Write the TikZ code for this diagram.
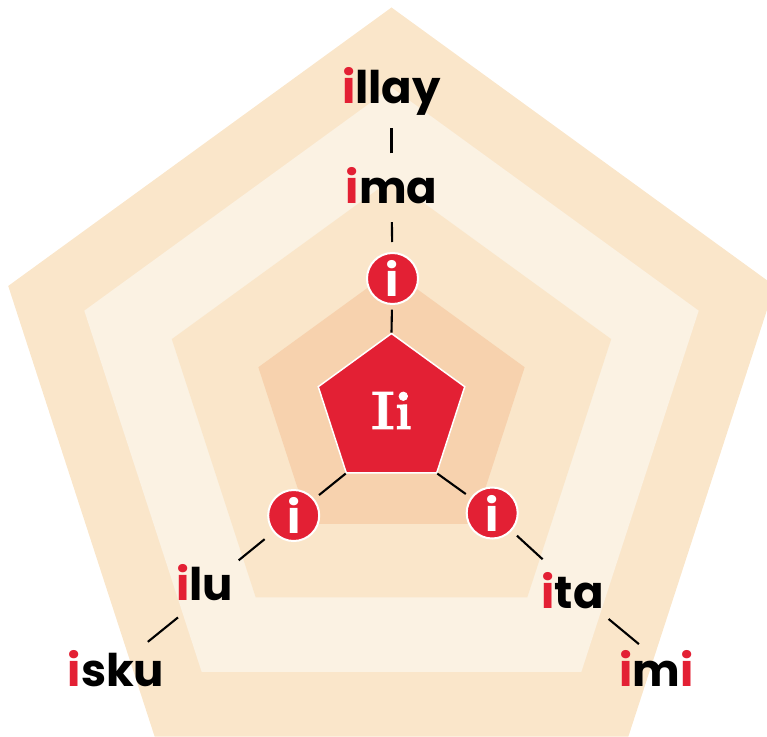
\documentclass[tikz,border=0pt]{standalone}
\usepackage{fontspec}
\newfontfamily\wordfont{Poppins}
\newfontfamily\corefont{lmroman10-bold.otf}[FakeBold=1.5]
\usetikzlibrary{shapes.geometric}
\definecolor{bandpeach}{HTML}{FAE6CA}
\definecolor{bandcream}{HTML}{FBF2E3}
\definecolor{banddeep}{HTML}{F7D2AE}
\definecolor{coral}{HTML}{E32034}
\newcommand{\redi}{\textcolor{coral}{i}}

\begin{document}
\begin{tikzpicture}[x=1pt, y=1pt,
    word/.style={anchor=base, inner sep=0pt, outer sep=0pt, font=\wordfont\bfseries\fontsize{45}{45}\selectfont},
    dot/.style={circle, minimum size=51pt, inner sep=0pt, fill=coral, draw=white, line width=2pt, text=white, font=\wordfont\bfseries\fontsize{45}{45}\selectfont},
    link/.style={line width=2.1pt}]
    % Frame
    \useasboundingbox (-391.5,-325.5) rectangle (375.5,410.5);

    % Bands
    \foreach \r/\c in {403/bandpeach, 323/bandcream, 231/bandpeach, 140/banddeep}
        \fill[\c] (90:\r) -- (162:\r) -- (234:\r) -- (306:\r) -- (18:\r) -- cycle;

    % Core
    \node[regular polygon, regular polygon sides=5, minimum size=154pt, inner sep=0pt, fill=coral, draw=white, line width=1.5pt, text=white, font=\corefont\fontsize{54}{54}\selectfont] (core) at (0,0) {Ii};

    % Circles
    \node[dot] (ctop) at (1,132) {i};
    \node[dot] (cleft) at (-97.8,-105) {i};
    \node[dot] (cright) at (100.7,-102.5) {i};

    % Words
    \node[word] (illay) at (0,307.2) {\redi llay};
    \node[word] (ima) at (0,207.3) {\redi ma};
    \node[word] (ilu) at (-186.7,-190.3) {\redi lu};
    \node[word] (isku) at (-275.5,-276.2) {\redi sku};
    \node[word] (ita) at (181.1,-198.3) {\redi ta};
    \node[word] (imi) at (265.3,-276.2) {\redi m\redi};

    % Links
    \draw[link, shorten >=4.6pt] (core.corner 1) -- (ctop);
    \draw[link, shorten <=10pt, shorten >=18.5pt] (ctop) -- (ima);
    \draw[link, shorten <=13.7pt, shorten >=12.3pt] (ima) -- (illay);
    \draw[link, shorten >=6pt] (core.corner 3) -- (cleft);
    \draw[link, shorten <=11pt, shorten >=7pt] (cleft) -- (ilu.north east);
    \draw[link, shorten <=26pt, shorten >=14pt] (ilu.250) -- (isku.41);
    \draw[link, shorten >=6pt] (core.corner 4) -- (cright);
    \draw[link, shorten <=7pt, shorten >=20pt] (cright) -- (ita.130);
    \draw[link, shorten <=15.4pt, shorten >=10.3pt] (ita.-37) -- (imi.119);
\end{tikzpicture}
\end{document}
